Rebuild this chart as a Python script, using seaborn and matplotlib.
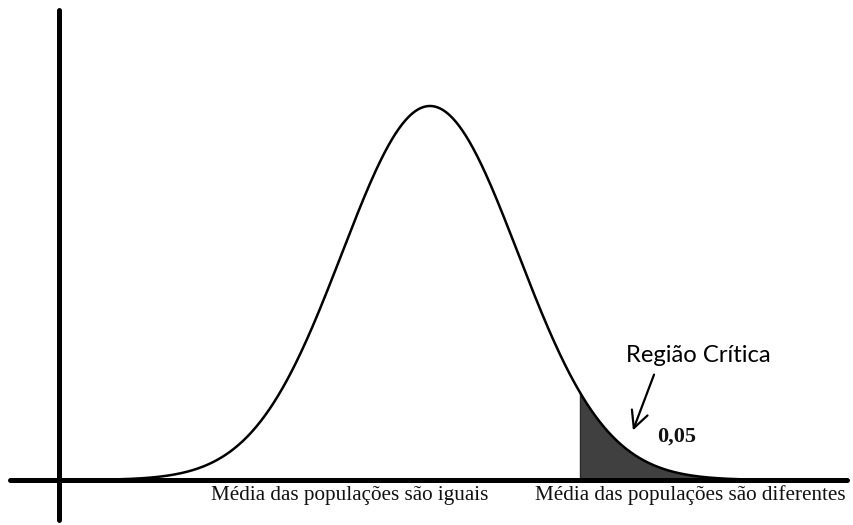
import numpy as np
import pandas as pd
import matplotlib
matplotlib.use("Agg")
import matplotlib.pyplot as plt
import seaborn as sns

# ---- data ----
mean_value = 0.0
std_dev = 1.0
critical_z = 1.70          # start of the shaded critical region
curve_range = [-3.75, 3.75]
alpha_label = "0,05"
region_label = "Região Crítica"
axis_labels = ["Média das populações são iguais",
               "Média das populações são diferentes"]

z = np.linspace(curve_range[0], curve_range[1], 600)
density = np.exp(-0.5 * ((z - mean_value) / std_dev) ** 2) / (std_dev * np.sqrt(2 * np.pi))
df = pd.DataFrame({"z": z, "density": density})
tail = df[df["z"] >= critical_z]

# ---- plot ----
sns.set_theme(style="white")
fig = plt.figure(figsize=(8.54, 5.25), dpi=100)
ax = fig.add_axes([0, 0, 1, 1])
ax.set_facecolor("white")

ax.fill_between(tail["z"], 0, tail["density"], color="#404040", linewidth=0, zorder=2)
ax.vlines(critical_z, 0, np.interp(critical_z, df["z"], df["density"]),
          color="#2a2a2a", linewidth=1.0, zorder=3)
sns.lineplot(data=df, x="z", y="density", ax=ax, color="black",
             linewidth=1.8, zorder=4, legend=False)

ax.set_xlim(-4.886, 4.818)
ax.set_ylim(-0.048, 0.512)
ax.set_xticks([])
ax.set_yticks([])
ax.set_xlabel("")
ax.set_ylabel("")

for side in ["top", "right"]:
    ax.spines[side].set_visible(False)
ax.spines["bottom"].set_position(("data", 0))
ax.spines["bottom"].set_bounds(-4.77, 4.74)
ax.spines["left"].set_position(("data", -4.22))
ax.spines["left"].set_bounds(-0.0427, 0.501)
for side in ["bottom", "left"]:
    ax.spines[side].set_linewidth(3.6)
    ax.spines[side].set_color("black")
    ax.spines[side].set_capstyle("round")
    ax.spines[side].set_zorder(5)

ax.text(-2.49, -0.0165, axis_labels[0], ha="left", va="center",
        fontsize=15.2, family="Liberation Serif", color="#111111")
ax.text(4.727, -0.0165, axis_labels[1], ha="right", va="center",
        fontsize=15.2, family="Liberation Serif", color="#111111")

ax.text(2.227, 0.1259, region_label, ha="left", va="baseline",
        fontsize=17.2, family="Lato", color="black")
ax.text(2.58, 0.0459, alpha_label, ha="left", va="center",
        fontsize=16, family="Liberation Serif", fontweight="bold", color="#111111")

ax.annotate("", xy=(2.295, 0.0501), xytext=(2.557, 0.1152),
            arrowprops=dict(arrowstyle="->,head_length=1.0,head_width=0.5",
                            color="black", linewidth=1.6))

fig.savefig("out.png", dpi=100, facecolor="white")
